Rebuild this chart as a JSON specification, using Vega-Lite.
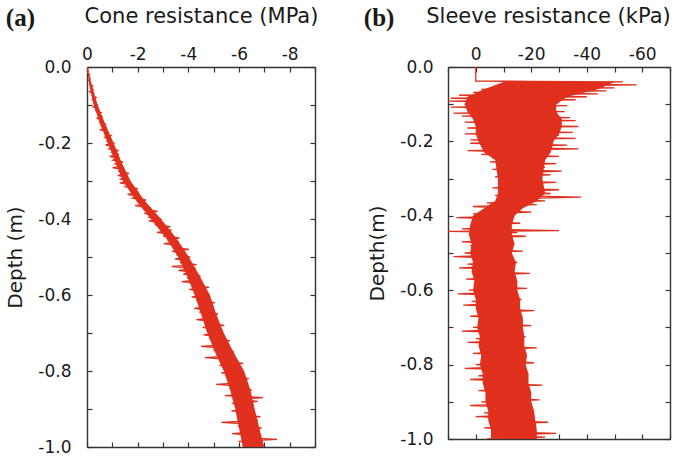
{
  "$schema": "https://vega.github.io/schema/vega-lite/v6.json",
  "padding": {"left": 5, "top": 5, "right": 5, "bottom": 5},
  "spacing": 45,
  "config": {
    "view": {"stroke": null},
    "font": "DejaVu Sans",
    "axis": {
      "grid": false,
      "domainColor": "#333333",
      "domainWidth": 1.4,
      "tickColor": "#333333",
      "tickWidth": 1.2,
      "tickSize": -5,
      "labelColor": "#1a1a1a",
      "titleColor": "#1a1a1a",
      "labelFont": "DejaVu Sans",
      "titleFont": "DejaVu Sans",
      "labelFontSize": 17,
      "titleFontWeight": "normal",
      "labelFlush": false,
      "labelOverlap": false
    },
    "title": {"font": "Liberation Serif", "fontSize": 25, "fontWeight": "bold", "color": "#1a1a1a", "anchor": "start", "frame": "bounds"}
  },
  "datasets": {
    "coneCore": [
      {"d":0,"lo":0,"hi":0},{"d":-0.05,"lo":-0.1,"hi":-0.2},{"d":-0.1,"lo":-0.26,"hi":-0.42},{"d":-0.15,"lo":-0.52,"hi":-0.72},{"d":-0.2,"lo":-0.82,"hi":-1.05},
      {"d":-0.25,"lo":-1.12,"hi":-1.36},{"d":-0.3,"lo":-1.42,"hi":-1.72},{"d":-0.35,"lo":-1.92,"hi":-2.25},{"d":-0.4,"lo":-2.52,"hi":-2.92},{"d":-0.45,"lo":-3.12,"hi":-3.52},
      {"d":-0.5,"lo":-3.6,"hi":-4.02},{"d":-0.55,"lo":-3.95,"hi":-4.45},{"d":-0.6,"lo":-4.25,"hi":-4.85},{"d":-0.65,"lo":-4.5,"hi":-5.1},{"d":-0.7,"lo":-4.75,"hi":-5.4},
      {"d":-0.75,"lo":-5.05,"hi":-5.78},{"d":-0.8,"lo":-5.4,"hi":-6.2},{"d":-0.85,"lo":-5.65,"hi":-6.45},{"d":-0.9,"lo":-5.85,"hi":-6.62},{"d":-0.95,"lo":-6.0,"hi":-6.8},{"d":-1.0,"lo":-6.15,"hi":-7.0}
    ],
    "sleeveCore": [
      {"d":-0.04,"lo":-10,"hi":-50},{"d":-0.06,"lo":-3,"hi":-44},{"d":-0.08,"lo":3,"hi":-33},{"d":-0.1,"lo":4,"hi":-29},{"d":-0.12,"lo":3,"hi":-29},
      {"d":-0.14,"lo":1,"hi":-31},{"d":-0.16,"lo":0,"hi":-31},{"d":-0.18,"lo":0,"hi":-30},{"d":-0.2,"lo":-1,"hi":-28},{"d":-0.23,"lo":-3,"hi":-27},
      {"d":-0.25,"lo":-7,"hi":-25},{"d":-0.3,"lo":-8,"hi":-24},{"d":-0.34,"lo":-8,"hi":-25},{"d":-0.36,"lo":-7,"hi":-22},{"d":-0.38,"lo":-3,"hi":-17},
      {"d":-0.4,"lo":1,"hi":-14},{"d":-0.425,"lo":2,"hi":-13},{"d":-0.45,"lo":2.5,"hi":-13},{"d":-0.475,"lo":1.5,"hi":-14},{"d":-0.5,"lo":2,"hi":-13},
      {"d":-0.525,"lo":1,"hi":-14.5},{"d":-0.55,"lo":1.5,"hi":-14},{"d":-0.575,"lo":0.5,"hi":-15},{"d":-0.6,"lo":1,"hi":-15},{"d":-0.625,"lo":0,"hi":-16},
      {"d":-0.65,"lo":0,"hi":-16},{"d":-0.675,"lo":-1,"hi":-17},{"d":-0.7,"lo":-0.5,"hi":-17},{"d":-0.725,"lo":-1.5,"hi":-17.5},{"d":-0.75,"lo":-1,"hi":-17.5},
      {"d":-0.775,"lo":-2,"hi":-18.5},{"d":-0.8,"lo":-1.5,"hi":-18},{"d":-0.825,"lo":-2.5,"hi":-19},{"d":-0.85,"lo":-2.5,"hi":-19},{"d":-0.875,"lo":-3.5,"hi":-20},
      {"d":-0.9,"lo":-3.5,"hi":-20},{"d":-0.925,"lo":-4.5,"hi":-21},{"d":-0.95,"lo":-4.5,"hi":-21.5},{"d":-0.975,"lo":-5.5,"hi":-22},{"d":-1.0,"lo":-5.5,"hi":-22}
    ],
    "cone": [
      {"d":0,"q":0},{"d":-0.005,"q":-0.01},{"d":-0.01,"q":-0.05},{"d":-0.015,"q":-0.02},{"d":-0.02,"q":-0.11},{"d":-0.025,"q":-0.06},{"d":-0.03,"q":-0.13},{"d":-0.035,"q":-0.05},{"d":-0.04,"q":-0.13},{"d":-0.045,"q":-0.1},
      {"d":-0.05,"q":-0.23},{"d":-0.055,"q":-0.13},{"d":-0.06,"q":-0.24},{"d":-0.065,"q":-0.1},{"d":-0.07,"q":-0.26},{"d":-0.075,"q":-0.21},{"d":-0.08,"q":-0.36},{"d":-0.085,"q":-0.21},{"d":-0.09,"q":-0.31},{"d":-0.095,"q":-0.26},
      {"d":-0.1,"q":-0.41},{"d":-0.105,"q":-0.25},{"d":-0.11,"q":-0.42},{"d":-0.115,"q":-0.35},{"d":-0.12,"q":-0.56},{"d":-0.125,"q":-0.44},{"d":-0.13,"q":-0.58},{"d":-0.135,"q":-0.4},{"d":-0.14,"q":-0.56},{"d":-0.145,"q":-0.5},
      {"d":-0.15,"q":-0.73},{"d":-0.155,"q":-0.57},{"d":-0.16,"q":-0.74},{"d":-0.165,"q":-0.53},{"d":-0.17,"q":-0.78},{"d":-0.175,"q":-0.7},{"d":-0.18,"q":-0.94},{"d":-0.185,"q":-0.7},{"d":-0.19,"q":-0.87},{"d":-0.195,"q":-0.79},
      {"d":-0.2,"q":-1.05},{"d":-0.205,"q":-0.73},{"d":-0.21,"q":-1.04},{"d":-0.215,"q":-0.87},{"d":-0.22,"q":-1.25},{"d":-0.225,"q":-1.0},{"d":-0.23,"q":-1.26},{"d":-0.235,"q":-0.89},{"d":-0.24,"q":-1.17},{"d":-0.245,"q":-1.02},
      {"d":-0.25,"q":-1.42},{"d":-0.255,"q":-1.12},{"d":-0.26,"q":-1.4},{"d":-0.265,"q":-1.01},{"d":-0.27,"q":-1.43},{"d":-0.275,"q":-1.27},{"d":-0.28,"q":-1.66},{"d":-0.285,"q":-1.21},{"d":-0.29,"q":-1.5},{"d":-0.295,"q":-1.33},
      {"d":-0.3,"q":-1.69},{"d":-0.305,"q":-1.3},{"d":-0.31,"q":-1.71},{"d":-0.315,"q":-1.51},{"d":-0.32,"q":-2.01},{"d":-0.325,"q":-1.71},{"d":-0.33,"q":-2.05},{"d":-0.335,"q":-1.6},{"d":-0.34,"q":-1.97},{"d":-0.345,"q":-1.8},
      {"d":-0.35,"q":-2.33},{"d":-0.355,"q":-1.98},{"d":-0.36,"q":-2.36},{"d":-0.365,"q":-1.9},{"d":-0.37,"q":-2.45},{"d":-0.375,"q":-2.27},{"d":-0.38,"q":-2.79},{"d":-0.385,"q":-2.26},{"d":-0.39,"q":-2.64},{"d":-0.395,"q":-2.46},
      {"d":-0.4,"q":-2.94},{"d":-0.405,"q":-2.44},{"d":-0.41,"q":-2.94},{"d":-0.415,"q":-2.68},{"d":-0.42,"q":-3.3},{"d":-0.425,"q":-2.92},{"d":-0.43,"q":-3.34},{"d":-0.435,"q":-2.76},{"d":-0.44,"q":-3.22},{"d":-0.445,"q":-3.0},
      {"d":-0.45,"q":-3.64},{"d":-0.455,"q":-3.18},{"d":-0.46,"q":-3.61},{"d":-0.465,"q":-3.03},{"d":-0.47,"q":-3.67},{"d":-0.475,"q":-3.42},{"d":-0.48,"q":-4.02},{"d":-0.485,"q":-3.36},{"d":-0.49,"q":-3.78},{"d":-0.495,"q":-3.54},
      {"d":-0.5,"q":-4.07},{"d":-0.505,"q":-3.47},{"d":-0.51,"q":-4.0},{"d":-0.515,"q":-3.67},{"d":-0.52,"q":-4.33},{"d":-0.525,"q":-3.35},{"d":-0.53,"q":-4.3},{"d":-0.535,"q":-3.61},{"d":-0.54,"q":-4.09},{"d":-0.545,"q":-3.8},
      {"d":-0.55,"q":-4.48},{"d":-0.555,"q":-3.95},{"d":-0.56,"q":-4.42},{"d":-0.565,"q":-3.74},{"d":-0.57,"q":-4.45},{"d":-0.575,"q":-4.16},{"d":-0.58,"q":-4.82},{"d":-0.585,"q":-4.04},{"d":-0.59,"q":-4.52},{"d":-0.595,"q":-4.22},
      {"d":-0.6,"q":-4.8},{"d":-0.605,"q":-4.13},{"d":-0.61,"q":-4.7},{"d":-0.615,"q":-4.33},{"d":-0.62,"q":-5.05},{"d":-0.625,"q":-4.53},{"d":-0.63,"q":-5.0},{"d":-0.635,"q":-4.23},{"d":-0.64,"q":-4.75},{"d":-0.645,"q":-4.43},
      {"d":-0.65,"q":-5.17},{"d":-0.655,"q":-4.57},{"d":-0.66,"q":-5.06},{"d":-0.665,"q":-4.31},{"d":-0.67,"q":-5.06},{"d":-0.675,"q":-4.72},{"d":-0.68,"q":-5.42},{"d":-0.685,"q":-4.56},{"d":-0.69,"q":-5.05},{"d":-0.695,"q":-4.72},
      {"d":-0.7,"q":-5.33},{"d":-0.705,"q":-4.6},{"d":-0.71,"q":-5.24},{"d":-0.715,"q":-4.83},{"d":-0.72,"q":-5.64},{"d":-0.725,"q":-5.07},{"d":-0.73,"q":-5.6},{"d":-0.735,"q":-4.5},{"d":-0.74,"q":-5.34},{"d":-0.745,"q":-4.99},
      {"d":-0.75,"q":-5.81},{"d":-0.755,"q":-5.16},{"d":-0.76,"q":-5.72},{"d":-0.765,"q":-4.65},{"d":-0.77,"q":-5.74},{"d":-0.775,"q":-5.38},{"d":-0.78,"q":-6.17},{"d":-0.785,"q":-5.22},{"d":-0.79,"q":-5.79},{"d":-0.795,"q":-5.42},
      {"d":-0.8,"q":-6.11},{"d":-0.805,"q":-5.3},{"d":-0.81,"q":-5.98},{"d":-0.815,"q":-5.53},{"d":-0.82,"q":-6.39},{"d":-0.825,"q":-5.76},{"d":-0.83,"q":-6.32},{"d":-0.835,"q":-5.1},{"d":-0.84,"q":-6.01},{"d":-0.845,"q":-5.62},
      {"d":-0.85,"q":-6.5},{"d":-0.855,"q":-5.77},{"d":-0.86,"q":-6.35},{"d":-0.865,"q":-5.44},{"d":-0.87,"q":-6.95},{"d":-0.875,"q":-5.91},{"d":-0.88,"q":-6.74},{"d":-0.885,"q":-5.71},{"d":-0.89,"q":-6.28},{"d":-0.895,"q":-5.87},
      {"d":-0.9,"q":-6.59},{"d":-0.905,"q":-5.7},{"d":-0.91,"q":-6.43},{"d":-0.915,"q":-5.92},{"d":-0.92,"q":-6.85},{"d":-0.925,"q":-6.15},{"d":-0.93,"q":-6.75},{"d":-0.935,"q":-5.3},{"d":-0.94,"q":-6.39},{"d":-0.945,"q":-5.95},
      {"d":-0.95,"q":-6.89},{"d":-0.955,"q":-6.09},{"d":-0.96,"q":-6.72},{"d":-0.965,"q":-5.72},{"d":-0.97,"q":-6.68},{"d":-0.975,"q":-6.22},{"d":-0.98,"q":-7.5},{"d":-0.985,"q":-5.98},{"d":-0.99,"q":-6.61},{"d":-0.995,"q":-6.15},
      {"d":-1.0,"q":-6.5}
    ],
    "sleeve": [
      {"d":0,"q":0},{"d":-0.038,"q":0},{"d":-0.0385,"q":-19},
      {"d":-0.04,"q":-53},{"d":-0.044,"q":-12},{"d":-0.048,"q":-58},{"d":-0.052,"q":-8},{"d":-0.056,"q":-50},{"d":-0.06,"q":-2},{"d":-0.064,"q":-47},{"d":-0.068,"q":1},{"d":-0.072,"q":-44},{"d":-0.076,"q":6},
      {"d":-0.08,"q":-40},{"d":-0.084,"q":9},{"d":-0.088,"q":-36},{"d":-0.092,"q":10},{"d":-0.096,"q":-30},{"d":-0.1,"q":4},{"d":-0.104,"q":-33},{"d":-0.108,"q":9},{"d":-0.112,"q":-25},{"d":-0.116,"q":2},
      {"d":-0.12,"q":-32},{"d":-0.124,"q":8},{"d":-0.128,"q":-18},{"d":-0.132,"q":5},{"d":-0.136,"q":-34},{"d":-0.14,"q":-2},{"d":-0.144,"q":-36},{"d":-0.148,"q":4},{"d":-0.152,"q":-28},{"d":-0.156,"q":-6},
      {"d":-0.16,"q":-37},{"d":-0.164,"q":3},{"d":-0.168,"q":-22},{"d":-0.172,"q":-3},{"d":-0.176,"q":-35},{"d":-0.18,"q":4},{"d":-0.184,"q":-30},{"d":-0.188,"q":-8},{"d":-0.192,"q":-36},{"d":-0.196,"q":2},
      {"d":-0.2,"q":-26},{"d":-0.205,"q":2},{"d":-0.21,"q":-33},{"d":-0.215,"q":-6},{"d":-0.22,"q":-37},{"d":-0.225,"q":3},{"d":-0.23,"q":-24},{"d":-0.235,"q":-2},{"d":-0.24,"q":-30},{"d":-0.245,"q":-6},
      {"d":-0.25,"q":-22},{"d":-0.255,"q":-5},{"d":-0.26,"q":-29},{"d":-0.265,"q":-9},{"d":-0.27,"q":-25},{"d":-0.275,"q":-6},{"d":-0.28,"q":-31},{"d":-0.285,"q":-12},{"d":-0.29,"q":-27},{"d":-0.295,"q":-7},
      {"d":-0.3,"q":-20},{"d":-0.305,"q":-8},{"d":-0.31,"q":-29},{"d":-0.315,"q":-10},{"d":-0.32,"q":-24},{"d":-0.325,"q":-6},{"d":-0.33,"q":-30},{"d":-0.335,"q":-11},{"d":-0.34,"q":-27},{"d":-0.345,"q":-7},
      {"d":-0.35,"q":-38},{"d":-0.355,"q":-9},{"d":-0.36,"q":-25},{"d":-0.365,"q":-4},{"d":-0.37,"q":-22},{"d":-0.375,"q":1},{"d":-0.38,"q":-16},{"d":-0.385,"q":-3},{"d":-0.39,"q":-20},{"d":-0.395,"q":1},
      {"d":-0.4,"q":-12},{"d":-0.405,"q":7},{"d":-0.41,"q":-13},{"d":-0.415,"q":-2},{"d":-0.42,"q":-16},{"d":-0.425,"q":2},{"d":-0.43,"q":-11},{"d":-0.435,"q":5},{"d":-0.44,"q":-30},{"d":-0.442,"q":10},{"d":-0.445,"q":-15},
      {"d":-0.45,"q":1},{"d":-0.455,"q":-18},{"d":-0.46,"q":2},{"d":-0.465,"q":-9},{"d":-0.47,"q":5},{"d":-0.475,"q":-13},{"d":-0.48,"q":2},{"d":-0.485,"q":-13},{"d":-0.49,"q":0},{"d":-0.495,"q":-17},
      {"d":-0.5,"q":4},{"d":-0.505,"q":-11},{"d":-0.51,"q":8},{"d":-0.515,"q":-12},{"d":-0.52,"q":-1},{"d":-0.525,"q":-15},{"d":-0.53,"q":3},{"d":-0.535,"q":-10},{"d":-0.54,"q":6},{"d":-0.545,"q":-14},
      {"d":-0.55,"q":-0.5},{"d":-0.555,"q":-19.5},{"d":-0.56,"q":0.5},{"d":-0.565,"q":-10.5},{"d":-0.57,"q":3.5},{"d":-0.575,"q":-14.5},{"d":-0.58,"q":0.5},{"d":-0.585,"q":-14.5},{"d":-0.59,"q":-1.5},{"d":-0.595,"q":-18.5},
      {"d":-0.6,"q":2.5},{"d":-0.605,"q":-12.5},{"d":-0.61,"q":6.5},{"d":-0.615,"q":-13.5},{"d":-0.62,"q":-2.5},{"d":-0.625,"q":-16.5},{"d":-0.63,"q":1.5},{"d":-0.635,"q":-11.5},{"d":-0.64,"q":4.5},{"d":-0.645,"q":-15.5},
      {"d":-0.65,"q":-2},{"d":-0.655,"q":-21},{"d":-0.66,"q":-1},{"d":-0.665,"q":-12},{"d":-0.67,"q":2},{"d":-0.675,"q":-16},{"d":-0.68,"q":-1},{"d":-0.685,"q":-16},{"d":-0.69,"q":-3},{"d":-0.695,"q":-20},
      {"d":-0.7,"q":1},{"d":-0.705,"q":-14},{"d":-0.71,"q":5},{"d":-0.715,"q":-15},{"d":-0.72,"q":-4},{"d":-0.725,"q":-18},{"d":-0.73,"q":0},{"d":-0.735,"q":-13},{"d":-0.74,"q":3},{"d":-0.745,"q":-17},
      {"d":-0.75,"q":-3},{"d":-0.755,"q":-22},{"d":-0.76,"q":-2},{"d":-0.765,"q":-13},{"d":-0.77,"q":1},{"d":-0.775,"q":-17},{"d":-0.78,"q":-2},{"d":-0.785,"q":-17},{"d":-0.79,"q":-4},{"d":-0.795,"q":-21},
      {"d":-0.8,"q":0},{"d":-0.805,"q":-15},{"d":-0.81,"q":4},{"d":-0.815,"q":-16},{"d":-0.82,"q":-5},{"d":-0.825,"q":-19},{"d":-0.83,"q":-1},{"d":-0.835,"q":-14},{"d":-0.84,"q":2},{"d":-0.845,"q":-18},
      {"d":-0.85,"q":-5},{"d":-0.855,"q":-24},{"d":-0.86,"q":-4},{"d":-0.865,"q":-15},{"d":-0.87,"q":-1},{"d":-0.875,"q":-19},{"d":-0.88,"q":-4},{"d":-0.885,"q":-19},{"d":-0.89,"q":-6},{"d":-0.895,"q":-23},
      {"d":-0.9,"q":-2},{"d":-0.905,"q":-17},{"d":-0.91,"q":2},{"d":-0.915,"q":-18},{"d":-0.92,"q":-7},{"d":-0.925,"q":-21},{"d":-0.93,"q":-3},{"d":-0.935,"q":-16},{"d":-0.94,"q":0},{"d":-0.945,"q":-20},
      {"d":-0.95,"q":-7},{"d":-0.955,"q":-26},{"d":-0.96,"q":-6},{"d":-0.965,"q":-17},{"d":-0.97,"q":-3},{"d":-0.975,"q":-21},{"d":-0.98,"q":-6},{"d":-0.985,"q":-29},{"d":-0.99,"q":-8},{"d":-0.995,"q":-25},
      {"d":-1.0,"q":-4}
    ]
  },
  "hconcat": [
    {
      "title": {"text": "(a)", "dy": 30},
      "width": 228,
      "height": 380,
      "layer": [
        {
          "data": {"name": "coneCore"},
          "mark": {"type": "area", "orient": "horizontal", "color": "#e0301e", "clip": true},
          "encoding": {
            "y": {"field": "d", "type": "quantitative", "scale": {"domain": [-1, 0], "nice": false, "zero": false}, "axis": null},
            "x": {"field": "lo", "type": "quantitative", "scale": {"domain": [0, -9], "nice": false, "zero": false}, "axis": null},
            "x2": {"field": "hi"}
          }
        },
        {
          "data": {"name": "cone"},
          "mark": {"type": "line", "color": "#e0301e", "strokeWidth": 1.3, "clip": true},
          "encoding": {
            "x": {"field": "q", "type": "quantitative",
              "axis": {"orient": "top", "values": [0, -1, -2, -3, -4, -5, -6, -7, -8, -9],
                "labelExpr": "round(datum.value) % 2 == 0 ? (datum.value < 0 ? '-' : '') + format(abs(datum.value), 'd') : ''",
                "title": "Cone resistance (MPa)", "titleFontSize": 21, "titlePadding": 19, "labelPadding": 9}},
            "y": {"field": "d", "type": "quantitative",
              "axis": {"orient": "left", "values": [0, -0.1, -0.2, -0.3, -0.4, -0.5, -0.6, -0.7, -0.8, -0.9, -1.0],
                "labelExpr": "round(datum.value * 10) % 2 == 0 ? (datum.value < -0.01 ? '-' : '') + format(abs(datum.value), '.1f') : ''",
                "title": "Depth (m)", "titleFontSize": 20, "titlePadding": 12, "labelPadding": 21}},
            "order": {"field": "d", "type": "quantitative"}
          }
        },
        {
          "data": {"name": "cone"},
          "mark": {"type": "line", "strokeOpacity": 0},
          "encoding": {
            "x": {"field": "q", "type": "quantitative", "axis": {"orient": "bottom", "values": [0, -1, -2, -3, -4, -5, -6, -7, -8, -9], "labels": false, "title": null}},
            "y": {"field": "d", "type": "quantitative", "axis": {"orient": "right", "values": [0, -0.1, -0.2, -0.3, -0.4, -0.5, -0.6, -0.7, -0.8, -0.9, -1.0], "labels": false, "title": null}},
            "order": {"field": "d", "type": "quantitative"}
          }
        }
      ],
      "resolve": {"axis": {"x": "independent", "y": "independent"}}
    },
    {
      "title": {"text": "(b)", "dy": 30, "dx": -4},
      "width": 222,
      "height": 372,
      "layer": [
        {
          "data": {"name": "sleeveCore"},
          "mark": {"type": "area", "orient": "horizontal", "color": "#e0301e", "clip": true},
          "encoding": {
            "y": {"field": "d", "type": "quantitative", "scale": {"domain": [-1, 0], "nice": false, "zero": false}, "axis": null},
            "x": {"field": "lo", "type": "quantitative", "scale": {"domain": [10, -70], "nice": false, "zero": false}, "axis": null},
            "x2": {"field": "hi"}
          }
        },
        {
          "data": {"name": "sleeve"},
          "mark": {"type": "line", "color": "#e0301e", "strokeWidth": 1.3, "clip": true},
          "encoding": {
            "x": {"field": "q", "type": "quantitative",
              "axis": {"orient": "top", "values": [10, 0, -10, -20, -30, -40, -50, -60, -70],
                "labelExpr": "round(datum.value) % 20 == 0 ? (datum.value < 0 ? '-' : '') + format(abs(datum.value), 'd') : ''",
                "title": "Sleeve resistance (kPa)", "titleFontSize": 21, "titleX": 100, "titlePadding": 19, "labelPadding": 9}},
            "y": {"field": "d", "type": "quantitative",
              "axis": {"orient": "left", "values": [0, -0.1, -0.2, -0.3, -0.4, -0.5, -0.6, -0.7, -0.8, -0.9, -1.0],
                "labelExpr": "round(datum.value * 10) % 2 == 0 ? (datum.value < -0.01 ? '-' : '') + format(abs(datum.value), '.1f') : ''",
                "title": "Depth(m)", "titleFontSize": 20, "titlePadding": 12, "labelPadding": 20}},
            "order": {"field": "d", "type": "quantitative"}
          }
        },
        {
          "data": {"name": "sleeve"},
          "mark": {"type": "line", "strokeOpacity": 0},
          "encoding": {
            "x": {"field": "q", "type": "quantitative", "axis": {"orient": "bottom", "values": [10, 0, -10, -20, -30, -40, -50, -60, -70], "labels": false, "title": null}},
            "y": {"field": "d", "type": "quantitative", "axis": {"orient": "right", "values": [0, -0.1, -0.2, -0.3, -0.4, -0.5, -0.6, -0.7, -0.8, -0.9, -1.0], "labels": false, "title": null}},
            "order": {"field": "d", "type": "quantitative"}
          }
        }
      ],
      "resolve": {"axis": {"x": "independent", "y": "independent"}}
    }
  ]
}
